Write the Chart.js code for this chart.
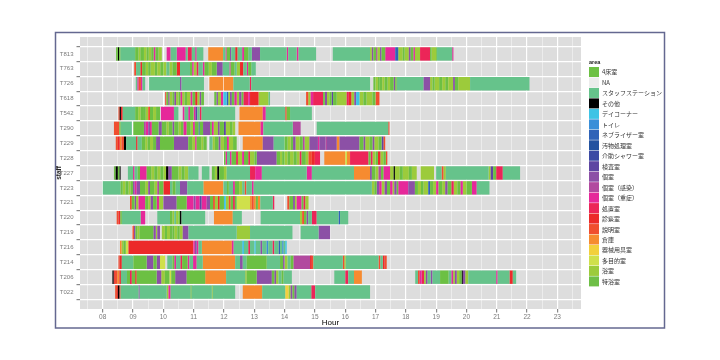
<!DOCTYPE html>
<html>
<head>
<meta charset="utf-8">
<script src="https://cdn.jsdelivr.net/npm/chart.js@4.4.0/dist/chart.umd.min.js"></script>
<style>
  html, body { margin: 0; padding: 0; background: #fff; }
  canvas { display: block; }
</style>
</head>
<body>
<canvas id="timeline" width="720" height="360"></canvas>
<script>
// rows, top to bottom
const staff = ['T813', 'T763', 'T726', 'T618', 'T542', 'T290', 'T229', 'T228', 'T227',
  'T223', 'T221', 'T220', 'T219', 'T216', 'T214', 'T206', 'T022'];
const hourLabels = ['08', '09', '10', '11', '12', '13', '14', '15', '16', '17', '18', '19', '20', '21', '22', '23'];

const areas = ['4床室', 'NA', 'スタッフステーション', 'その他', 'デイコーナー', 'トイレ', 'ネブライザー室',
  '汚物処理室', '介助シャワー室', '検査室', '個室', '個室（感染）', '個室（重症）', '処置室', '診察室',
  '説明室', '倉庫', '器械用具室', '多目的室', '浴室', '特浴室'];
const areaColors = ['#6cc043', '#ececec', '#66c38b', '#000000', '#3ec3e5', '#3a8fd8', '#2f63b8',
  '#2453a0', '#3c4aa4', '#5e46a2', '#8c50a6', '#b24a9f', '#e6289a', '#ec2558', '#ec2a2a',
  '#f04e2f', '#f68b30', '#f2d03c', '#cfe04b', '#9ccb3b', '#6ebf46'];

// area index shortcuts
const G = 0, S = 2, K = 3, D = 4, T = 5, N = 6, E = 9, P = 10, M = 11, J = 12, Q = 13, R = 14,
  X = 15, Z = 16, Y = 17, V = 18, B = 19, F = 20;

// [start hour, end hour, area]
const segT813 = [[8.44,8.50,G],[8.50,8.54,K],[8.54,8.58,G],[8.58,9.07,S],[9.07,9.18,G],[9.18,9.24,B],
  [9.24,9.36,G],[9.36,9.44,B],[9.44,9.52,F],[9.52,9.60,B],[9.60,9.68,G],[9.68,9.74,J],[9.74,9.84,G],
  [9.84,9.95,B],[10.11,10.24,J],[10.24,10.44,S],[10.44,10.74,J],[10.74,10.80,S],[10.80,10.94,Q],
  [10.94,11.05,S],[11.05,11.10,J],[11.10,11.32,S],[11.48,11.97,Z],[11.97,12.05,S],[12.05,12.09,J],
  [12.09,12.20,G],[12.20,12.24,P],[12.24,12.37,S],[12.37,12.45,R],[12.45,12.60,S],[12.60,12.66,J],
  [12.66,12.80,G],[12.80,12.92,S],[12.92,13.19,P],[13.19,14.07,S],[14.07,14.12,J],[14.12,14.40,S],
  [14.40,14.46,J],[14.46,15.04,S],[15.59,16.82,S],[16.82,16.88,B],[16.88,16.93,P],[16.93,17.02,G],
  [17.02,17.06,M],[17.06,17.15,B],[17.15,17.20,P],[17.20,17.32,G],[17.32,17.65,J],[17.65,17.75,N],
  [17.75,17.90,B],[17.90,17.96,G],[17.96,18.10,B],[18.10,18.16,P],[18.16,18.25,G],[18.25,18.30,J],
  [18.30,18.47,B],[18.47,18.80,Q],[18.80,18.85,G],[18.85,19.00,B],[19.00,19.03,G],[19.03,19.53,S],
  [19.53,19.57,J]];
const segT763 = [[9.04,9.10,X],[9.10,9.24,S],[9.24,9.30,R],[9.30,9.42,G],[9.42,9.50,B],[9.50,9.58,G],
  [9.58,9.72,B],[9.72,9.80,F],[9.80,9.90,B],[9.90,10.00,G],[10.00,10.10,B],[10.10,10.20,S],
  [10.20,10.30,B],[10.30,10.44,G],[10.44,10.55,R],[10.55,10.88,S],[10.88,10.95,G],[10.95,11.00,J],
  [11.00,11.10,B],[11.10,11.16,Q],[11.16,11.30,S],[11.30,11.36,J],[11.36,11.50,G],[11.50,11.60,B],
  [11.60,11.76,G],[11.76,11.96,P],[11.96,12.18,S],[12.18,12.22,J],[12.22,12.35,G],[12.35,12.42,S],
  [12.42,12.53,B],[12.53,12.64,R],[12.64,12.75,S],[12.75,12.80,J],[12.80,12.90,G],[12.90,13.05,S]];
const segT726 = [[9.09,9.14,S],[9.14,9.18,J],[9.18,9.26,X],[9.26,9.31,J],[9.31,9.40,S],[9.53,10.55,S],
  [10.55,10.60,P],[10.60,11.34,S],[11.52,11.98,Z],[12.00,12.31,Z],[12.31,12.85,S],[12.85,12.90,Q],
  [12.90,16.82,S],[16.93,17.00,G],[17.00,17.08,B],[17.08,17.14,G],[17.14,17.22,F],[17.22,17.30,B],
  [17.30,17.40,G],[17.40,17.48,B],[17.48,17.60,G],[17.60,17.65,P],[17.65,17.70,G],[17.70,18.58,S],
  [18.58,18.80,P],[18.80,18.88,B],[18.88,18.95,G],[18.95,19.10,B],[19.10,19.20,G],[19.20,19.30,B],
  [19.30,19.40,F],[19.40,19.56,B],[19.56,19.62,P],[19.62,19.73,G],[19.73,20.12,B],[20.12,22.08,S]];
const segT618 = [[10.06,10.10,X],[10.10,10.16,G],[10.16,10.20,P],[10.20,10.30,B],[10.30,10.36,G],
  [10.36,10.42,P],[10.42,10.50,B],[10.50,10.56,G],[10.56,10.62,J],[10.62,10.70,B],[10.70,10.78,G],
  [10.78,10.90,B],[10.90,10.96,J],[10.96,11.05,G],[11.05,11.12,R],[11.12,11.20,B],[11.20,11.25,P],
  [11.25,11.34,G],[11.68,11.75,G],[11.75,11.80,P],[11.80,11.90,B],[11.90,11.98,J],[11.98,12.09,D],
  [12.09,12.14,N],[12.14,12.20,B],[12.20,12.26,P],[12.26,12.34,G],[12.34,12.42,J],[12.42,12.50,B],
  [12.50,12.58,P],[12.58,12.64,G],[12.64,12.80,Q],[12.80,12.86,J],[12.86,13.14,R],[13.14,13.47,B],
  [13.47,13.52,S],[14.71,14.78,X],[14.78,14.86,B],[14.86,14.94,J],[14.94,15.27,Q],[15.27,15.33,G],
  [15.33,15.40,P],[15.40,15.48,B],[15.48,15.55,G],[15.55,15.60,E],[15.60,15.72,G],[15.72,16.05,B],
  [16.05,16.12,Q],[16.12,16.20,R],[16.20,16.30,B],[16.30,16.36,P],[16.36,16.47,D],[16.47,16.60,B],
  [16.60,16.70,G],[16.70,16.90,B],[16.90,17.00,G],[17.00,17.13,X]];
const segT542 = [[8.52,8.56,X],[8.56,8.60,K],[8.60,8.66,R],[8.66,9.07,S],[9.07,9.17,G],[9.17,9.25,B],
  [9.25,9.33,G],[9.33,9.42,F],[9.42,9.50,B],[9.50,9.56,X],[9.56,9.66,G],[9.66,9.76,B],[9.76,9.89,G],
  [9.92,10.35,J],[10.35,10.50,S],[10.64,10.70,J],[10.70,10.82,S],[10.82,10.88,J],[10.88,11.00,G],
  [11.00,11.06,J],[11.06,11.12,E],[11.12,11.20,S],[11.20,11.26,Q],[11.26,12.37,S],[12.51,13.28,Z],
  [13.28,13.38,J],[13.38,14.02,S],[14.02,14.07,X],[14.07,14.18,G],[14.18,14.90,S]];
const segT290 = [[8.37,8.55,X],[8.55,8.59,G],[8.59,8.96,S],[9.01,9.36,G],[9.36,9.42,M],[9.42,9.50,J],
  [9.50,9.56,P],[9.56,9.62,J],[9.62,9.84,G],[9.84,9.95,P],[9.95,10.10,G],[10.10,10.18,B],[10.18,10.30,G],
  [10.30,10.36,P],[10.36,10.50,G],[10.50,10.58,B],[10.58,10.66,G],[10.66,10.77,J],[10.77,10.90,G],
  [10.90,10.98,B],[10.98,11.04,J],[11.04,11.16,G],[11.16,11.20,N],[11.20,11.31,G],[11.31,11.54,P],
  [11.54,11.60,G],[11.60,11.66,J],[11.66,11.80,B],[11.80,11.86,P],[11.86,12.00,G],[12.00,12.06,E],
  [12.06,12.20,B],[12.20,12.28,G],[12.28,12.37,B],[12.48,13.21,Z],[13.21,13.30,J],[13.30,14.27,S],
  [14.27,14.53,M],[15.06,17.42,S],[17.42,17.46,X]];
const segT229 = [[8.43,8.50,X],[8.50,8.56,R],[8.56,8.62,Z],[8.62,8.70,X],[8.70,8.77,K],[8.77,9.10,S],
  [9.10,9.15,R],[9.15,9.29,S],[9.29,9.40,G],[9.40,9.48,B],[9.48,9.56,G],[9.56,9.66,B],[9.66,9.76,G],
  [9.76,9.89,P],[9.89,10.35,G],[10.35,10.82,P],[10.82,10.95,G],[10.95,11.05,B],[11.05,11.10,J],
  [11.10,11.25,G],[11.25,11.32,B],[11.32,11.43,G],[11.52,11.62,S],[11.62,11.70,B],[11.70,11.82,G],
  [11.82,11.88,P],[11.88,12.00,B],[12.00,12.10,G],[12.10,12.16,J],[12.16,12.30,B],[12.30,12.42,G],
  [12.62,13.28,Z],[13.28,13.64,P],[13.64,14.00,S],[14.00,14.10,G],[14.10,14.20,B],[14.20,14.28,F],
  [14.28,14.36,P],[14.36,14.50,B],[14.50,14.60,G],[14.60,14.66,M],[14.66,14.82,B],[14.82,15.10,P],
  [15.10,15.15,J],[15.15,15.35,P],[15.35,15.40,M],[15.40,15.72,P],[15.72,15.81,Z],[15.81,16.47,P],
  [16.47,16.60,G],[16.60,16.66,P],[16.66,16.80,B],[16.80,16.90,G],[16.90,16.96,P],[16.96,17.10,B],
  [17.10,17.20,G],[17.20,17.26,E],[17.26,17.32,X]];
const segT228 = [[12.00,12.05,G],[12.05,12.10,J],[12.10,12.20,S],[12.20,12.25,J],[12.25,12.40,G],
  [12.40,12.46,Q],[12.46,12.60,B],[12.60,12.66,J],[12.66,12.80,G],[12.80,12.86,Q],[12.86,13.00,B],
  [13.00,13.08,G],[13.08,13.74,P],[13.74,13.85,G],[13.85,13.92,B],[13.92,14.00,G],[14.00,14.10,B],
  [14.10,14.18,G],[14.18,14.30,B],[14.30,14.40,G],[14.40,14.50,B],[14.50,14.56,Q],[14.56,14.70,G],
  [14.70,14.79,B],[14.79,14.90,X],[14.90,15.00,R],[15.00,15.17,Q],[15.31,16.00,Z],[16.00,16.06,V],
  [16.06,16.16,Z],[16.16,16.77,Q],[16.77,16.84,G],[16.84,16.90,Q],[16.90,17.00,B],[17.00,17.08,G],
  [17.08,17.16,R],[17.16,17.26,B],[17.26,17.34,G],[17.34,17.39,X]];
const segT227 = [[8.37,8.42,G],[8.42,8.50,K],[8.50,8.55,G],[8.55,8.59,K],[8.83,9.00,S],[9.00,9.05,J],
  [9.05,9.15,S],[9.15,9.23,G],[9.23,9.45,J],[9.45,9.60,G],[9.60,9.70,B],[9.70,9.80,G],[9.80,9.90,B],
  [9.90,10.00,G],[10.00,10.09,B],[10.09,10.16,K],[10.16,10.28,P],[10.28,10.50,G],[10.50,10.60,B],
  [10.60,10.70,G],[10.70,10.82,B],[10.82,11.16,S],[11.27,11.52,S],[11.60,11.70,G],[11.70,11.78,B],
  [11.78,11.84,K],[11.84,12.00,G],[12.00,12.09,B],[12.09,12.86,S],[12.86,13.03,Q],[13.03,13.25,J],
  [13.25,14.73,S],[14.73,14.90,J],[14.90,16.29,S],[16.29,16.82,Z],[16.82,16.88,P],[16.88,17.00,G],
  [17.00,17.10,B],[17.10,17.18,M],[17.18,17.26,G],[17.26,17.48,J],[17.48,17.60,B],[17.60,17.64,K],
  [17.64,17.80,B],[17.80,17.90,G],[17.90,18.10,B],[18.10,18.20,G],[18.20,18.36,B],[18.49,18.93,B],
  [19.00,19.18,S],[19.18,19.24,X],[19.24,19.32,B],[19.32,20.73,S],[20.73,20.80,B],[20.80,20.88,E],
  [20.88,20.98,G],[20.98,21.20,Q],[21.20,21.77,S]];
const segT223 = [[8.00,8.59,S],[8.59,8.66,G],[8.66,8.75,B],[8.75,8.85,G],[8.85,8.92,B],[8.92,9.00,G],
  [9.00,9.05,P],[9.05,9.12,J],[9.12,9.23,P],[9.23,9.40,G],[9.40,9.50,B],[9.50,9.56,P],[9.56,9.70,G],
  [9.70,9.80,B],[9.80,9.86,M],[9.86,10.00,G],[10.00,10.22,R],[10.22,10.30,S],[10.30,10.40,G],
  [10.40,10.55,S],[10.55,10.79,P],[10.79,11.32,S],[11.32,11.98,Z],[11.98,12.10,S],[12.10,12.16,G],
  [12.16,12.30,S],[12.30,12.36,J],[12.36,12.50,G],[12.50,12.60,B],[12.60,12.68,S],[12.68,12.74,X],
  [12.74,12.92,S],[12.92,12.98,J],[12.98,16.88,S],[16.88,16.96,B],[16.96,17.04,G],[17.04,17.12,P],
  [17.12,17.20,J],[17.20,17.30,B],[17.30,17.38,P],[17.38,17.48,G],[17.48,17.56,J],[17.56,17.62,B],
  [17.62,17.70,P],[17.70,17.75,G],[17.75,18.08,J],[18.08,18.30,P],[18.30,18.40,G],[18.40,18.50,B],
  [18.50,18.58,G],[18.58,18.74,B],[18.74,18.80,N],[18.80,18.90,G],[18.90,19.00,B],[19.00,19.08,J],
  [19.08,19.20,G],[19.20,19.30,B],[19.30,19.38,P],[19.38,19.50,G],[19.50,19.58,Q],[19.58,19.70,B],
  [19.70,19.80,G],[19.80,19.88,J],[19.88,20.00,B],[20.00,20.18,G],[20.18,20.34,J],[20.34,20.76,S]];
const segT221 = [[8.90,8.96,X],[8.96,9.05,G],[9.05,9.10,P],[9.10,9.18,B],[9.18,9.40,J],[9.40,9.50,G],
  [9.50,9.58,B],[9.58,9.66,P],[9.66,9.78,G],[9.78,9.86,J],[9.86,10.00,B],[10.00,10.44,P],[10.44,10.77,G],
  [10.77,11.00,J],[11.00,11.06,P],[11.06,11.20,J],[11.20,11.26,E],[11.26,11.43,J],[11.43,11.54,P],
  [11.54,11.64,G],[11.64,11.70,X],[11.70,11.80,B],[11.80,11.86,R],[11.86,12.00,G],[12.00,12.06,D],
  [12.06,12.16,B],[12.16,12.22,X],[12.22,12.30,G],[12.30,12.36,Q],[12.36,12.42,G],[12.42,12.86,V],
  [12.86,12.92,Z],[12.92,12.98,X],[12.98,13.05,Z],[13.05,13.12,G],[13.12,13.20,Z],[13.20,13.61,S],
  [13.61,13.66,Q],[14.09,14.16,X],[14.16,14.28,G],[14.28,14.34,P],[14.34,14.40,B],[14.40,14.56,J],
  [14.56,14.62,G],[14.62,14.68,Q],[14.68,14.79,B]];
const segT220 = [[8.46,8.52,X],[8.52,8.58,R],[8.58,8.63,G],[8.63,9.25,S],[9.25,9.40,J],[9.80,10.22,S],
  [10.22,10.30,G],[10.30,10.36,B],[10.36,10.42,S],[10.42,10.50,B],[10.50,10.55,G],[10.55,10.60,K],
  [10.60,11.38,S],[11.67,12.29,Z],[12.29,12.59,S],[13.21,14.51,S],[14.51,14.58,B],[14.58,14.64,X],
  [14.64,14.72,G],[14.72,14.78,P],[14.78,14.90,S],[14.90,15.06,Q],[15.06,15.78,S],[15.78,15.83,N],
  [15.83,16.10,S]];
const segT219 = [[8.98,9.03,X],[9.03,9.08,P],[9.08,9.14,G],[9.14,9.21,B],[9.21,9.67,G],[9.67,9.75,P],
  [9.75,9.80,B],[9.80,9.89,P],[9.95,10.05,B],[10.05,10.12,G],[10.12,10.22,B],[10.22,10.30,F],
  [10.30,10.36,G],[10.36,10.46,B],[10.46,10.54,G],[10.54,10.64,B],[10.64,10.83,P],[10.83,12.42,S],
  [12.42,12.86,B],[12.86,14.26,S],[14.53,15.12,S],[15.12,15.50,P]];
const segT216 = [[8.57,8.62,Z],[8.62,8.68,B],[8.68,8.76,G],[8.76,8.85,V],[8.85,10.99,R],[10.99,11.04,J],
  [11.04,11.10,P],[11.10,11.16,J],[11.16,11.27,S],[11.27,12.26,Z],[12.26,12.32,J],[12.32,12.60,S],
  [12.60,12.66,D],[12.66,12.80,S],[12.80,12.86,Q],[12.86,13.00,S],[13.00,13.05,D],[13.05,13.20,S],
  [13.20,13.26,P],[13.26,13.40,S],[13.40,13.46,T],[13.46,13.60,S],[13.60,13.66,Q],[13.66,13.80,S],
  [13.80,13.85,N],[13.85,13.92,S],[13.92,13.97,T],[13.97,14.02,S],[14.02,14.07,D]];
const segT214 = [[8.52,8.56,X],[8.56,8.63,R],[8.63,9.01,S],[9.01,9.45,G],[9.45,9.67,P],[9.67,9.78,G],
  [9.78,9.89,P],[9.89,10.06,V],[10.13,10.30,S],[10.30,10.36,G],[10.36,10.42,J],[10.42,10.56,S],
  [10.56,10.62,Q],[10.62,10.80,G],[10.80,10.86,J],[10.86,10.98,S],[10.98,11.10,J],[11.10,11.30,S],
  [11.30,12.37,Z],[12.37,12.53,S],[12.53,12.62,P],[12.62,12.75,S],[12.75,13.41,G],[13.41,13.85,S],
  [13.85,13.95,G],[13.95,14.00,P],[14.00,14.10,B],[14.10,14.20,S],[14.20,14.29,G],[14.29,14.84,M],
  [14.84,14.90,R],[14.90,14.95,X],[14.95,15.92,S],[15.92,15.97,X],[15.97,16.02,B],[16.02,17.10,S],
  [17.10,17.16,X],[17.16,17.24,S],[17.24,17.30,R],[17.30,17.37,X]];
const segT206 = [[8.32,8.36,K],[8.36,8.40,R],[8.40,8.48,X],[8.48,8.55,Z],[8.55,8.60,R],[8.60,8.80,S],
  [8.80,8.90,G],[8.90,8.96,Q],[8.96,9.07,G],[9.07,9.12,R],[9.12,9.78,G],[9.78,9.93,P],[9.93,10.05,B],
  [10.05,10.20,G],[10.20,10.26,V],[10.26,10.39,G],[10.39,10.77,P],[10.77,11.38,G],[11.38,12.07,Z],
  [12.07,12.70,S],[12.70,12.75,B],[12.75,13.08,G],[13.08,13.58,P],[13.58,13.66,G],[13.66,13.72,P],
  [13.72,13.80,B],[13.80,13.90,S],[13.90,13.96,G],[13.96,14.24,S],[15.64,16.00,S],[16.00,16.10,Q],
  [16.10,16.29,S],[16.29,16.55,Z],[18.31,18.40,S],[18.40,18.46,X],[18.46,18.52,J],[18.52,18.60,Q],
  [18.60,18.66,B],[18.66,18.72,P],[18.72,18.82,S],[18.82,18.88,P],[18.88,19.13,S],[19.13,19.41,G],
  [19.41,19.50,S],[19.50,19.56,J],[19.56,19.62,B],[19.62,19.68,P],[19.68,19.76,B],[19.76,19.84,G],
  [19.84,19.88,K],[19.88,19.96,P],[19.96,20.06,B],[20.06,20.98,S],[20.98,21.03,J],[21.03,21.42,S],
  [21.42,21.53,R],[21.53,21.64,S]];
const segT022 = [[8.41,8.47,X],[8.47,8.50,R],[8.50,8.55,K],[8.55,8.59,X],[8.59,9.18,S],[9.18,9.22,P],
  [9.22,10.11,S],[10.11,10.17,B],[10.17,10.24,J],[10.24,10.90,S],[10.90,10.93,G],[10.93,11.60,S],
  [11.60,11.63,B],[11.63,12.37,S],[12.62,13.26,Z],[13.26,14.02,S],[14.02,14.13,Y],[14.13,14.20,B],
  [14.20,14.26,P],[14.26,14.32,G],[14.32,14.40,P],[14.40,14.88,S],[14.88,15.01,Q],[15.01,16.82,S]];

// same order as staff
const staffSegments = [segT813, segT763, segT726, segT618, segT542, segT290, segT229, segT228, segT227,
  segT223, segT221, segT220, segT219, segT216, segT214, segT206, segT022];

const datasets = areas.map((name, a) => ({
  label: name,
  data: [],
  backgroundColor: areaColors[a],
  borderWidth: 0,
  grouped: false,
  barPercentage: 0.9,
  categoryPercentage: 1
}));
staffSegments.forEach((segs, row) => {
  segs.forEach(([start, end, a]) => datasets[a].data.push({ x: [start, end], y: row }));
});

const tickFamily = "'Liberation Sans Narrow', 'Liberation Sans', sans-serif";
const isMajor = v => Number.isInteger(v);

// grey panel, outer frame and the area legend
const panelPlugin = {
  id: 'panel',
  beforeDraw(chart) {
    const { ctx, chartArea: a } = chart;
    ctx.save();
    ctx.fillStyle = '#ffffff';
    ctx.fillRect(0, 0, chart.width, chart.height);
    ctx.fillStyle = '#dddddd';
    ctx.fillRect(a.left, a.top, a.right - a.left, a.bottom - a.top);
    ctx.strokeStyle = '#646890';
    ctx.lineWidth = 1.5;
    ctx.strokeRect(55.5, 32.5, 609, 295.5);
    ctx.restore();
  },
  afterDraw(chart) {
    const ctx = chart.ctx;
    ctx.save();
    ctx.textBaseline = 'middle';
    ctx.textAlign = 'left';
    ctx.fillStyle = '#222';
    ctx.font = "bold 5.5px 'Liberation Sans', sans-serif";
    ctx.fillText('area', 589, 62);
    ctx.font = "6px 'Noto Sans CJK JP', sans-serif";
    areas.forEach((name, i) => {
      const y = 67 + i * 10.47;
      ctx.fillStyle = areaColors[i];
      ctx.fillRect(589, y, 10, 10);
      ctx.fillStyle = '#333';
      ctx.fillText(name, 602, y + 5.2);
    });
    ctx.restore();
  }
};

new Chart(document.getElementById('timeline'), {
  type: 'bar',
  data: { datasets: datasets },
  plugins: [panelPlugin],
  options: {
    indexAxis: 'y',
    responsive: false,
    animation: false,
    devicePixelRatio: 1,
    events: [],
    layout: { padding: { left: 55, top: 37, right: 139, bottom: 30 } },
    plugins: { legend: { display: false }, tooltip: { enabled: false } },
    scales: {
      x: {
        type: 'linear',
        bounds: 'data',
        min: 7.25,
        max: 23.78,
        afterFit: s => { s.height = 21; },
        afterBuildTicks: s => {
          const ticks = [];
          hourLabels.forEach(l => { ticks.push({ value: +l - 0.5 }, { value: +l }); });
          ticks.push({ value: 23.5 });
          s.ticks = ticks;
        },
        ticks: {
          autoSkip: false,
          maxRotation: 0,
          padding: 1,
          color: '#7a7a7a',
          font: { family: tickFamily, size: 6.5 },
          callback: v => hourLabels.find(l => +l === v) || ''
        },
        grid: {
          color: ctx => isMajor(ctx.tick.value) ? '#ffffff' : 'rgba(255,255,255,0.75)',
          lineWidth: ctx => isMajor(ctx.tick.value) ? 1.2 : 0.6,
          tickLength: 3.5,
          tickColor: ctx => isMajor(ctx.tick.value) ? '#888' : 'rgba(0,0,0,0)'
        },
        border: { display: false },
        title: {
          display: true,
          text: 'Hour',
          color: '#000',
          font: { family: "'Liberation Sans', sans-serif", size: 8 },
          padding: { top: 0, bottom: 2 }
        }
      },
      y: {
        type: 'linear',
        bounds: 'data',
        min: -0.6,
        max: 16.6,
        reverse: true,
        afterFit: s => { s.width = 25; },
        afterBuildTicks: s => { s.ticks = staff.map((_, i) => ({ value: i })); },
        ticks: {
          autoSkip: false,
          padding: 3,
          color: '#7a7a7a',
          font: { family: tickFamily, size: 6 },
          callback: v => staff[v]
        },
        grid: { color: '#ffffff', lineWidth: 1.2, tickLength: 3.5, tickColor: '#888' },
        border: { display: false },
        title: {
          display: true,
          text: 'staff',
          color: '#222',
          font: { family: "'Liberation Sans', sans-serif", size: 6.5, weight: 'bold' },
          padding: 0
        }
      }
    }
  }
});
</script>
</body>
</html>
